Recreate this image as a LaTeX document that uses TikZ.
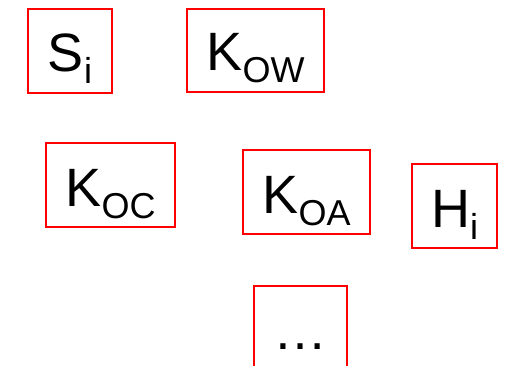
\documentclass[tikz,border=0pt]{standalone}
\usepackage{fontspec}
\setmainfont{Liberation Sans}
\newcommand{\lowidx}[1]{\raisebox{-12pt}{\fontsize{36}{40}\selectfont #1}}
\begin{document}
\begin{tikzpicture}[x=1pt,y=-1pt,box/.style={draw=red,line width=1.5pt,inner sep=0pt,font=\fontsize{54}{60}\selectfont,text depth=21pt,text height=63pt}]
        \useasboundingbox (0,0) rectangle (508,366);
        \node[box,minimum width=84pt] (si) at (70,51) {S\lowidx{i}};
        \node[box,minimum width=137pt,text height=62pt] (kow) at (255.5,50.5) {K\lowidx{OW}};

        \node[box,minimum width=129pt] (koc) at (110.5,185) {K\lowidx{OC}};
        \node[box,minimum width=127pt] (koa) at (306.5,192) {K\lowidx{OA}};
        \node[box,minimum width=85pt] (hi) at (454.5,206) {H\lowidx{i}};

        \node[box,minimum width=93pt] (more) at (300.5,328) {…};
    \end{tikzpicture}
\end{document}
